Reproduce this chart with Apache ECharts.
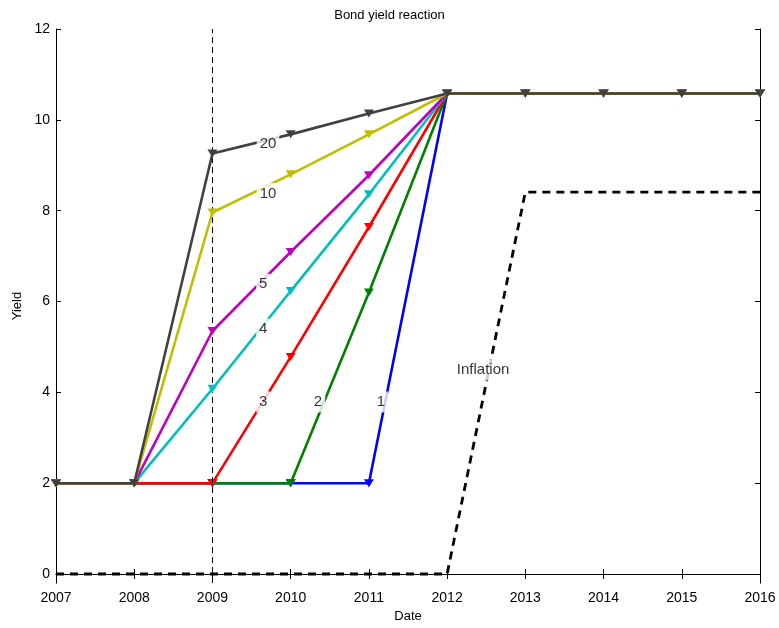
<!DOCTYPE html>
<html>
<head>
<meta charset="utf-8">
<script src="https://cdn.jsdelivr.net/npm/echarts@6/dist/echarts.min.js"></script>
<style>html,body{margin:0;padding:0;background:#fff}#c{width:779px;height:628px}</style>
</head>
<body>
<div id="c"></div>
<script>
var years = [2007, 2008, 2009, 2010, 2011, 2012, 2013, 2014, 2015, 2016];
var yTicks = [0, 2, 4, 6, 8, 10, 12];
var seriesNames = ['1', '2', '3', '4', '5', '10', '20'];
var yield1  = [2, 2, 2,    2,    2,     10.58, 10.58, 10.58, 10.58, 10.58];
var yield2  = [2, 2, 2,    2,    6.2,   10.58, 10.58, 10.58, 10.58, 10.58];
var yield3  = [2, 2, 2,    4.78, 7.64,  10.58, 10.58, 10.58, 10.58, 10.58];
var yield4  = [2, 2, 4.08, 6.23, 8.36,  10.58, 10.58, 10.58, 10.58, 10.58];
var yield5  = [2, 2, 5.35, 7.09, 8.78,  10.58, 10.58, 10.58, 10.58, 10.58];
var yield10 = [2, 2, 7.96, 8.8,  9.68,  10.58, 10.58, 10.58, 10.58, 10.58];
var yield20 = [2, 2, 9.26, 9.68, 10.14, 10.58, 10.58, 10.58, 10.58, 10.58];
var inflation = [0, 0, 0, 0, 0, 0, 8.41, 8.41, 8.41, 8.41];
var markerYear = 2009;
// annotation labels: text and anchor in data units
var annText = ['20', '10', '5', '4', '3', '2', '1', 'Inflation'];
var annX = [2009.71, 2009.71, 2009.65, 2009.65, 2009.65, 2010.35, 2011.155, 2012.46];
var annY = [9.48, 8.38, 6.38, 5.39, 3.79, 3.79, 3.79, 4.49];

var colors = ['#0000ff', '#008000', '#ff0000', '#00bfbf', '#bf00bf', '#bfbf00', '#404040'];
var allYields = [yield1, yield2, yield3, yield4, yield5, yield10, yield20];

function pairs(xs, ys) { return xs.map(function (x, i) { return [x, ys[i]]; }); }

var font = 'Liberation Sans, Arial, sans-serif';
var series = [];
series.push({
  type: 'line', name: 'Inflation', data: pairs(years, inflation), showSymbol: false, symbol: 'none',
  lineStyle: { color: '#000', width: 2.8, type: [8, 6] }, z: 1,
  markLine: {
    silent: true, symbol: 'none', label: { show: false },
    lineStyle: { color: '#000', width: 1, type: [6, 4] },
    data: [{ xAxis: markerYear }]
  }
});
allYields.forEach(function (ys, i) {
  series.push({
    type: 'line', name: seriesNames[i], data: pairs(years, ys),
    symbol: 'triangle', symbolSize: [10, 8], symbolRotate: 180, showAllSymbol: true,
    itemStyle: { color: colors[i] }, lineStyle: { color: colors[i], width: 2.6 }, z: 2 + i
  });
});
series.push({
  type: 'scatter', symbolSize: 0, zlevel: 1, z: 20,
  data: annText.map(function (t, i) { return { value: [annX[i], annY[i]], name: t }; }),
  label: {
    show: true, position: 'inside', formatter: '{b}', color: '#000', fontSize: 15,
    fontFamily: font, textBorderWidth: 0,
    backgroundColor: '#fff', padding: [3, 3]
  }
});

var axisLineStyle = { show: true, lineStyle: { color: '#000', width: 1 } };
function yearFmt(v) { return String(v); }
var option = {
  animation: false,
  backgroundColor: '#fff',
  title: { text: 'Bond yield reaction', left: 'center', top: 4,
    textStyle: { fontSize: 13, fontWeight: 'normal', color: '#000', fontFamily: font } },
  grid: { left: 56, right: 19, top: 29, bottom: 43, containLabel: false },
  xAxis: [
    { type: 'value', min: 2007, max: 2016, interval: 1, position: 'bottom',
      name: 'Date', nameLocation: 'middle', nameGap: 26,
      nameTextStyle: { fontSize: 13, color: '#000', fontFamily: font },
      axisLine: axisLineStyle, axisTick: { show: true, inside: true, length: 5, lineStyle: { color: '#000' } },
      axisLabel: { color: '#000', fontSize: 14, margin: 8, fontFamily: font, formatter: yearFmt }, splitLine: { show: false } },
    { type: 'value', min: 2007, max: 2016, interval: 1, position: 'top',
      axisLine: axisLineStyle, axisTick: { show: true, inside: true, length: 5, lineStyle: { color: '#000' } },
      axisLabel: { show: false }, splitLine: { show: false } }
  ],
  yAxis: [
    { type: 'value', min: -0.2, max: 12, position: 'left',
      name: 'Yield', nameLocation: 'middle', nameGap: 32,
      nameTextStyle: { fontSize: 13, color: '#000', fontFamily: font },
      axisLine: axisLineStyle,
      axisTick: { show: true, inside: true, length: 5, customValues: yTicks, lineStyle: { color: '#000' } },
      axisLabel: { color: '#000', fontSize: 14, margin: 6, customValues: yTicks, fontFamily: font },
      splitLine: { show: false } },
    { type: 'value', min: -0.2, max: 12, position: 'right',
      axisLine: axisLineStyle,
      axisTick: { show: true, inside: true, length: 5, customValues: yTicks, lineStyle: { color: '#000' } },
      axisLabel: { show: false, customValues: yTicks }, splitLine: { show: false } }
  ],
  series: series
};
echarts.init(document.getElementById('c')).setOption(option);
</script>
</body>
</html>
